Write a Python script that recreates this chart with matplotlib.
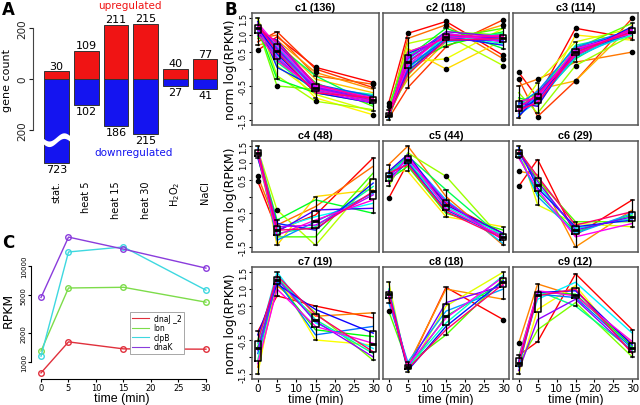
import numpy as np
import matplotlib
matplotlib.use('Agg')
import matplotlib.pyplot as plt
from matplotlib.colors import hsv_to_rgb
from matplotlib.lines import Line2D

W, H = 640, 406

# ---- panel A: differentially expressed gene counts
conditions = ['stat.', 'heat 5', 'heat 15', 'heat 30', 'H$_2$O$_2$', 'NaCl']
up_counts = [30, 109, 211, 215, 40, 77]
down_counts = [723, 102, 186, 215, 27, 41]
down_cap = 330  # bars deeper than this are drawn broken

# ---- panel C: RPKM of chaperone genes over time
times = [0, 5, 15, 30]
gene_names = ['dnaJ _2', 'lon', 'clpB', 'dnaK']
rpkm_dnaJ2 = [770, 1620, 1370, 1360]
rpkm_lon = [1300, 5900, 6000, 4200]
rpkm_clpB = [1150, 14000, 15800, 5600]
rpkm_dnaK = [4700, 20000, 15000, 9500]
gene_colors = ['#e0303c', '#7ddc4a', '#3ed8e0', '#8a3cdc']

# ---- panel B: normalised expression profiles per cluster (subset of genes)
cluster_sizes = [136, 118, 114, 48, 44, 29, 19, 18, 12]

c1_lines = [
    [0.55, 0.95, 0.05, -0.40], [0.80, 1.10, 0.00, -0.55], [0.90, 1.00, -0.20, -0.45],
    [0.70, 0.85, -0.10, -0.60], [1.00, 0.80, -0.30, -0.70], [1.45, 0.30, -0.85, -1.35],
    [1.30, 0.10, -0.75, -1.25], [1.50, -0.20, -0.95, -1.20], [1.20, -0.50, -0.60, -0.90],
    [1.10, 0.60, -0.40, -1.10], [0.95, 0.45, -0.50, -0.80], [1.25, -0.30, -0.70, -1.00],
    [1.15, 0.70, -0.20, -1.05], [1.35, 0.20, -0.65, -0.85], [1.05, 0.55, -0.55, -0.75],
    [1.20, 0.50, -0.60, -0.95], [1.30, 0.40, -0.50, -0.90], [1.10, 0.65, -0.55, -0.85],
    [1.25, 0.30, -0.60, -0.95], [1.15, 0.75, -0.45, -0.80], [1.40, 0.05, -0.55, -0.90],
    [1.20, 0.45, -0.70, -1.00], [1.00, 0.85, -0.50, -0.85], [1.30, 0.60, -0.60, -0.95],
    [1.25, 0.55, -0.55, -0.90], [1.15, 0.35, -0.65, -1.00], [1.35, 0.70, -0.50, -0.85],
    [1.05, 0.25, -0.60, -0.95], [1.20, 0.80, -0.45, -0.90], [1.30, 0.50, -0.70, -0.85],
]
c2_lines = [
    [-1.00, 1.05, 1.40, 0.40], [-1.45, -0.55, 0.65, 1.45], [-1.30, 0.90, 1.30, 0.30],
    [-1.20, -0.30, 0.80, 1.30], [-1.40, 0.60, 0.00, 0.85], [-1.50, 0.20, 0.30, 1.20],
    [-1.25, 0.75, 1.00, 0.10], [-1.35, -0.20, 1.10, 1.00], [-1.10, 0.50, 0.90, 1.20],
    [-1.40, 0.10, 0.70, 1.10], [-1.30, 0.35, 1.20, 0.60], [-1.35, -0.10, 0.95, 0.90],
    [-1.25, 0.40, 0.85, 1.05], [-1.40, 0.00, 1.00, 0.75], [-1.30, 0.25, 0.95, 0.85],
    [-1.35, 0.15, 0.80, 0.95], [-1.45, 0.30, 1.05, 0.80], [-1.30, 0.05, 0.90, 1.00],
    [-1.35, 0.45, 0.95, 0.70], [-1.40, 0.20, 1.00, 0.90], [-1.30, -0.05, 0.85, 0.85],
    [-1.35, 0.30, 1.10, 0.95], [-1.35, 0.35, 0.95, 0.90], [-1.30, 0.10, 1.05, 0.80],
    [-1.40, 0.50, 0.90, 1.00], [-1.25, 0.20, 1.00, 0.95], [-1.35, -0.15, 0.85, 0.90],
]
c3_lines = [
    [-0.10, -0.85, 1.20, 0.90], [-0.30, -1.40, -0.35, 1.50], [-0.50, -0.30, 0.20, 0.50],
    [-1.45, -0.60, -0.35, 1.30], [-0.90, -1.10, 1.00, 0.85], [-1.20, -0.40, 0.80, 1.20],
    [-0.70, -1.30, 0.10, 1.00], [-1.30, -0.80, 0.60, 1.35], [-1.00, -0.70, 0.40, 1.10],
    [-0.85, -1.00, 0.55, 1.15], [-1.10, -0.90, 0.30, 1.25], [-1.25, -0.75, 0.70, 1.05],
    [-0.95, -1.05, 0.45, 1.00], [-1.15, -0.85, 0.50, 1.20], [-1.35, -0.95, 0.35, 1.10],
    [-1.05, -0.65, 0.65, 1.15], [-1.20, -0.90, 0.50, 1.05], [-1.40, -0.80, 0.40, 1.25],
    [-1.00, -1.10, 0.60, 1.10], [-1.30, -0.70, 0.45, 1.20], [-1.10, -0.80, 0.55, 1.10],
    [-1.25, -0.95, 0.45, 1.15], [-0.95, -0.85, 0.60, 1.05], [-1.15, -0.75, 0.40, 1.20],
    [-1.20, -1.00, 0.50, 1.10],
]
c4_lines = [
    [0.45, -1.00, -0.55, 1.15], [0.60, -0.85, -0.30, 0.90], [1.50, -1.45, 0.00, 0.20],
    [1.40, -0.40, -1.45, 0.55], [1.20, -1.20, -1.20, 0.70], [1.35, -0.70, -0.10, -0.50],
    [1.25, -1.10, -0.90, 0.30], [1.30, -0.95, -0.60, -0.20], [1.45, -1.30, -0.75, 0.10],
    [1.15, -0.80, -1.00, 0.40], [1.30, -1.05, -0.40, -0.35], [1.40, -0.90, -0.85, 0.05],
    [1.25, -1.15, -0.70, -0.10], [1.35, -1.00, -0.95, 0.15],
]
c5_lines = [
    [-0.05, 1.00, -0.20, -1.10], [0.95, 1.50, 0.00, -1.45], [0.80, 0.75, -0.60, -0.90],
    [0.30, 1.30, 0.60, -1.30], [0.50, 0.90, -0.50, -1.00], [0.70, 1.20, 0.20, -1.25],
    [0.45, 1.05, -0.30, -1.15], [0.65, 1.15, -0.10, -1.40], [0.55, 1.00, -0.40, -1.20],
    [0.75, 1.25, -0.25, -1.10], [0.60, 1.10, -0.15, -1.30], [0.40, 1.20, -0.35, -1.20],
    [0.70, 0.95, -0.45, -1.25],
]
c6_lines = [
    [0.30, 1.10, -1.15, -0.10], [0.75, 0.65, -1.50, -0.40], [1.50, -0.25, -0.80, -0.90],
    [1.40, 0.50, -0.75, -0.75], [1.20, 0.10, -1.05, -0.55], [1.35, 0.35, -0.95, -0.65],
    [1.25, 0.00, -1.10, -0.50], [1.45, 0.25, -0.90, -0.70], [1.30, 0.45, -1.00, -0.60],
    [1.15, 0.20, -1.20, -0.80], [1.35, 0.60, -0.85, -0.45],
]
c7_lines = [
    [-0.25, 0.80, 0.50, 0.15], [-1.30, 1.10, 0.20, 0.30], [-1.50, 1.40, -0.50, -0.65],
    [-0.50, 1.30, 0.30, -1.10], [-0.70, 1.20, -0.20, -0.40], [-1.10, 1.35, 0.10, -0.90],
    [-0.60, 1.50, 0.00, -0.75], [-0.90, 1.25, -0.35, -0.10], [-0.35, 1.15, 0.40, -0.30],
    [-0.80, 1.30, 0.05, -1.00], [-1.20, 1.00, -0.10, -0.60], [-0.55, 1.40, 0.25, -0.85],
]
c8_lines = [
    [0.90, -1.30, 1.05, 0.10], [0.70, -1.25, 1.00, 0.70], [1.20, -1.45, 0.50, 1.50],
    [0.35, -1.20, -0.35, 1.30], [0.85, -1.35, 0.20, 1.20], [1.00, -1.30, 0.00, 1.40],
    [0.60, -1.15, 0.35, 1.00], [0.80, -1.40, -0.10, 1.25], [0.95, -1.30, 0.60, 1.10],
    [0.75, -1.25, 0.15, 1.35], [0.85, -1.35, -0.20, 1.15],
]
c9_lines = [
    [-0.95, -0.55, 1.45, -0.20], [-0.60, 1.15, 0.80, -0.60], [-1.50, 0.40, 1.10, -0.90],
    [-1.20, -0.20, 0.60, -1.00], [-1.00, 0.90, 0.85, -0.70], [-1.25, 0.95, 0.50, -0.80],
    [-1.10, 0.70, 1.20, -0.30], [-1.30, 0.85, 0.75, -0.75], [-1.15, 0.90, 0.95, -0.65],
    [-1.40, 0.10, 0.70, -0.85], [-1.05, 0.95, 0.80, -0.55], [-1.20, 0.80, 1.00, -0.90],
]
clusters = [c1_lines, c2_lines, c3_lines, c4_lines, c5_lines,
            c6_lines, c7_lines, c8_lines, c9_lines]


def box(x0, y0, x1, y1):
    # pixel box (top-left origin) -> figure rect
    return [x0 / W, 1 - y1 / H, (x1 - x0) / W, (y1 - y0) / H]


fig = plt.figure(figsize=(W / 100, H / 100), dpi=100)

# ================= A =================
axA = fig.add_axes(box(33, 0, 222, 170))
xpos = np.arange(len(conditions))
down_drawn = [-min(d, down_cap) for d in down_counts]
axA.bar(xpos, up_counts, width=0.83, color='#f01414', edgecolor='#333333', lw=0.7)
axA.bar(xpos, down_drawn, width=0.83, color='#1414f0', edgecolor='#333333', lw=0.7)
for i in range(len(conditions)):
    axA.text(i, up_counts[i] + 3, str(up_counts[i]), ha='center', va='bottom', fontsize=8)
    axA.text(i, down_drawn[i] - 4, str(down_counts[i]), ha='center', va='top', fontsize=8)
    if down_counts[i] > down_cap:
        xs = np.linspace(i - 0.5, i + 0.5, 80)
        yc = -238 + 16 * np.sin(2 * np.pi * (xs - i))
        axA.fill_between(xs, yc - 11, yc + 11, color='white', zorder=3, lw=0)
axA.set_xlim(-0.79, 5.57)
axA.set_ylim(-353, 314)
for s in ['top', 'right', 'bottom']:
    axA.spines[s].set_visible(False)
axA.spines['left'].set_bounds(-200, 200)
axA.spines['left'].set_color('#444444')
axA.set_yticks([-200, 0, 200])
axA.set_yticklabels(['200', '0', '200'], rotation=90, va='center', fontsize=7.5)
axA.tick_params(axis='y', length=3, pad=1, colors='#222222')
axA.set_xticks(xpos)
axA.set_xticklabels(conditions, rotation=90, va='top', fontsize=7)
axA.tick_params(axis='x', length=0, pad=8)
axA.text(2.48, 290, 'upregulated', color='#f01414', ha='center', va='center', fontsize=7.5)
axA.text(2.58, -286, 'downregulated', color='#1414f0', ha='center', va='center', fontsize=7.5)
fig.text(7 / W, 1 - 80 / H, 'gene count', rotation=90, ha='center', va='center', fontsize=8)

# ================= B =================
col_px = [(252, 379), (383, 509), (513, 638)]
row_px = [(14, 126), (142, 253), (268, 380)]
for k, lines in enumerate(clusters):
    r, c = divmod(k, 3)
    ax = fig.add_axes(box(col_px[c][0], row_px[r][0], col_px[c][1], row_px[r][1]))
    data = np.array(lines)
    n = len(data)
    hues = np.column_stack([np.linspace(0, 0.93, n), np.ones(n), np.ones(n)])
    line_cols = hsv_to_rgb(hues)
    for j in range(n):
        ax.plot(times, data[j], color=line_cols[j], lw=1.0)
    ax.boxplot(data, positions=times, widths=1.6, manage_ticks=False,
               boxprops=dict(color='black', lw=1.1),
               medianprops=dict(color='black', lw=2.0),
               whiskerprops=dict(color='black', lw=0.9),
               capprops=dict(color='black', lw=1.1),
               flierprops=dict(marker='o', markerfacecolor='black',
                               markeredgecolor='black', markersize=3),
               zorder=5)
    ax.set_xlim(-1.5, 31.5)
    ax.set_ylim(-1.65, 1.65)
    for s in ax.spines.values():
        s.set_color('#555555')
        s.set_linewidth(1.1)
    ax.set_title('c%d (%d)' % (k + 1, cluster_sizes[k]), fontsize=7.8,
                 fontweight='bold', family='Liberation Sans', pad=2)
    if r == 2:
        ax.set_xticks([0, 5, 10, 15, 20, 25, 30])
        ax.tick_params(axis='x', labelsize=7.5, length=2, pad=1)
        ax.set_xlabel('time (min)', fontsize=9, family='Liberation Sans', labelpad=0)
    else:
        ax.set_xticks([])
    if c == 0:
        ax.set_yticks([-1.5, -1.0, -0.5, 0, 0.5, 1.0, 1.5])
        ax.set_yticklabels(['-1.5', '', '-0.5', '', '0.5', '1.0', '1.5'],
                           rotation=90, va='center', fontsize=6)
        ax.tick_params(axis='y', length=2, pad=1)
        ax.set_ylabel('norm log(RPKM)', fontsize=9, labelpad=1)
    else:
        ax.set_yticks([])

# ================= C =================
axC = fig.add_axes(box(31, 225, 212, 380))
axC.set_yscale('log')
for vals, col in zip([rpkm_dnaJ2, rpkm_lon, rpkm_clpB, rpkm_dnaK], gene_colors):
    axC.plot(times, vals, color=col, lw=1, marker='o', mfc='none', mec=col,
             ms=4, mew=1)
axC.set_xlim(-1.82, 31.1)
axC.set_ylim(665, 27380)
axC.spines['top'].set_visible(False)
axC.spines['right'].set_visible(False)
axC.spines['left'].set_bounds(1000, 10000)
axC.spines['bottom'].set_bounds(0, 30)
axC.set_yticks([1000, 2000, 5000, 10000])
axC.set_yticklabels(['1000', '2000', '5000', '10000'], rotation=90, va='center', fontsize=5)
axC.yaxis.set_minor_locator(matplotlib.ticker.NullLocator())
axC.set_xticks([0, 5, 10, 15, 20, 25, 30])
axC.tick_params(axis='x', labelsize=6, length=2, pad=1)
axC.tick_params(axis='y', length=2, pad=1)
axC.set_xlabel('time (min)', fontsize=9, family='Liberation Sans', labelpad=0)
fig.text(8 / W, 1 - 310 / H, 'RPKM', rotation=90, ha='center', va='center', fontsize=9)
handles = [Line2D([], [], color=cl, lw=0.8) for cl in gene_colors]
leg = axC.legend(handles, gene_names, loc='upper left',
                 bbox_to_anchor=(126 / W, 1 - 309 / H), bbox_transform=fig.transFigure,
                 fontsize=5.5, fancybox=False, edgecolor='#999999', framealpha=1,
                 handlelength=2.2, labelspacing=0.05, borderpad=0.3, handletextpad=0.6)
leg.get_frame().set_linewidth(0.6)

# panel letters
fig.text(2 / W, 1 - 1 / H, 'A', fontsize=12, fontweight='bold', va='top')
fig.text(224 / W, 1 - 1 / H, 'B', fontsize=12, fontweight='bold', va='top')
fig.text(2 / W, 1 - 234 / H, 'C', fontsize=12, fontweight='bold', va='top')

fig.savefig('out.png', dpi=100)
